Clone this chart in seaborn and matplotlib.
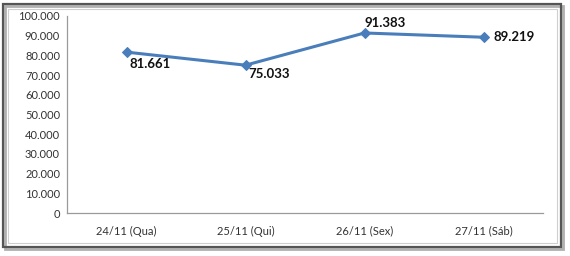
import matplotlib
matplotlib.use("Agg")
import matplotlib.pyplot as plt
import matplotlib.patches as mpatches
from matplotlib.ticker import FuncFormatter
import seaborn as sns
import pandas as pd

# data
days = ["24/11 (Qua)", "25/11 (Qui)", "26/11 (Sex)", "27/11 (Sáb)"]
values = [81661, 75033, 91383, 89219]
labels = ["81.661", "75.033", "91.383", "89.219"]

sns.set_style("white")
plt.rcParams["font.family"] = ["Lato", "DejaVu Sans"]

df = pd.DataFrame({"dia": days, "valor": values})

fig = plt.figure(figsize=(5.7, 2.56), dpi=100)
ax = fig.add_axes([67 / 570, 43 / 256, 476 / 570, 197 / 256])

sns.lineplot(data=df, x="dia", y="valor", ax=ax, color="#4a7ebb", linewidth=2.2,
             marker="D", markersize=5, markeredgecolor="#4a7ebb", sort=False)

ax.set_xlim(-0.5, 3.5)
ax.set_ylim(0, 100000)
ax.set_yticks(range(0, 100001, 10000))
ax.yaxis.set_major_formatter(FuncFormatter(lambda v, p: f"{int(v):,}".replace(",", ".")))
ax.set_xlabel("")
ax.set_ylabel("")
ax.tick_params(axis="both", length=0, labelsize=8, colors="#333333", pad=5)
ax.tick_params(axis="x", pad=9)

for s in ["top", "right"]:
    ax.spines[s].set_visible(False)
for s in ["left", "bottom"]:
    ax.spines[s].set_color("#9a9a9a")
    ax.spines[s].set_linewidth(0.9)

# data labels, offsets in points like the original placement
offsets = [(2, -4, "left", "top"), (2, -2, "left", "top"),
           (0, 3, "left", "bottom"), (7, 0, "left", "center")]
for i, (v, t) in enumerate(zip(values, labels)):
    dx, dy, ha, va = offsets[i]
    ax.annotate(t, (i, v), xytext=(dx, dy), textcoords="offset points",
                ha=ha, va=va, fontsize=9.5, fontweight="bold", color="#111111")

# outer frame with shadow and inner light border
fig.patches.append(mpatches.Rectangle((5 / 570, 7 / 256), 558 / 570, 243 / 256,
                                      transform=fig.transFigure, facecolor="none",
                                      edgecolor="#b0b0b0", linewidth=2))
fig.patches.append(mpatches.Rectangle((3 / 570, 9 / 256), 558 / 570, 243 / 256,
                                      transform=fig.transFigure, facecolor="none",
                                      edgecolor="#555555", linewidth=1.6))
fig.patches.append(mpatches.Rectangle((8 / 570, 13 / 256), 549 / 570, 234 / 256,
                                      transform=fig.transFigure, facecolor="none",
                                      edgecolor="#cfcfcf", linewidth=0.8))

fig.savefig("out.png", dpi=100)
